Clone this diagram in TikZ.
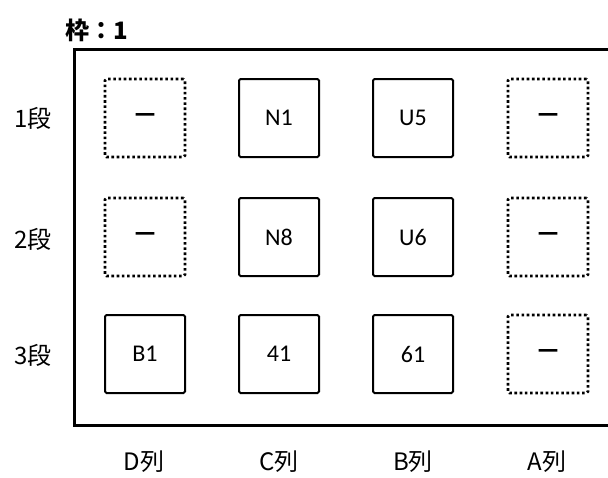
\documentclass[tikz,border=0pt]{standalone}
\usepackage{fontspec}
\setmainfont{Carlito}
\newfontfamily\jpfont{Noto Sans CJK JP}
\newfontfamily\dashfont[FakeBold=9]{Noto Sans CJK JP}
\usetikzlibrary{positioning}

\begin{document}
\begin{tikzpicture}[x=1pt, y=-1pt, font=\fontsize{24}{26}\selectfont,
    slot/.style={draw, line width=2pt, rounded corners=1.5pt, minimum width=80pt,
                 minimum height=78pt, inner sep=0pt},
    empty/.style={slot, line width=2.6pt, dash pattern=on 2.6pt off 2.6pt},
    bar/.style={font=\dashfont\fontsize{20}{24}\selectfont},
    lbl/.style={font=\jpfont\fontsize{24}{26}\selectfont, inner sep=0pt}]
    \useasboundingbox (0,0) rectangle (608,477);

    \node[font=\jpfont\bfseries\fontsize{24}{28}\selectfont, inner sep=0pt] (title) at (97,30) {枠：1};

    % frame, open on the right
    \coordinate (ftr) at (610,49);
    \coordinate (ftl) at (74,49);
    \coordinate (fbl) at (74,425);
    \coordinate (fbr) at (610,425);
    \draw[line width=3pt] (ftr) -- (ftl) -- (fbl) -- (fbr);

    % row labels
    \foreach \r/\y in {1/118, 2/239, 3/355}
      \node[lbl] (row\r) at (33,\y) {\r 段};

    % column labels
    \foreach \c/\x in {D/144, C/279, B/413, A/547}
      \node[lbl] (col\c) at (\x,462) {\c 列};

    % slots
    \node[empty, bar] (d1) at (145,118) {―};
    \node[slot]       (c1) at (279,118) {N1};
    \node[slot]       (b1) at (413,118) {U5};
    \node[empty, bar] (a1) at (548,118) {―};

    \node[empty, bar] (d2) at (145,237) {―};
    \node[slot]       (c2) at (279,237) {N8};
    \node[slot]       (b2) at (413,237) {U6};
    \node[empty, bar] (a2) at (548,237) {―};

    \node[slot]       (d3) at (145,354) {B1};
    \node[slot]       (c3) at (279,354) {41};
    \node[slot]       (b3) at (413,354) {61};
    \node[empty, bar] (a3) at (548,354) {―};
\end{tikzpicture}
\end{document}
